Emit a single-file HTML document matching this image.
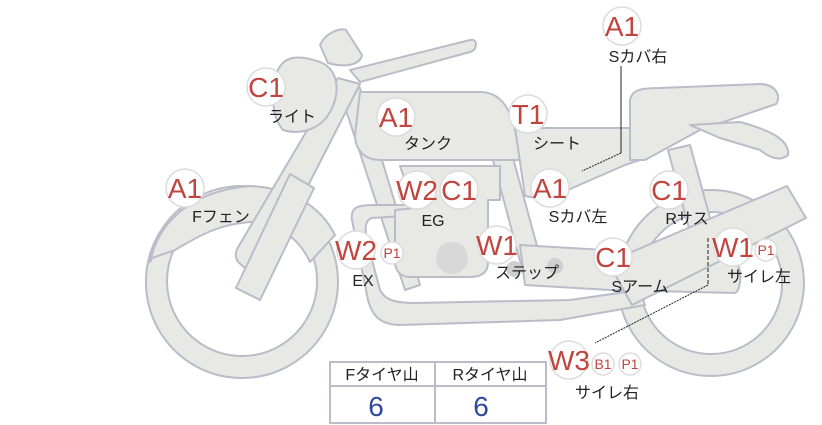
<!DOCTYPE html>
<html><head><meta charset="utf-8"><style>
html,body{margin:0;padding:0;background:#fff;width:822px;height:425px;overflow:hidden}
svg{display:block}
.b{fill:#e8e8e5;stroke:#b9bdc9;stroke-width:2;stroke-linejoin:round}
.c{fill:#fff;stroke:#dcdcdc;stroke-width:1.5}
.r{fill:#c1453f;font-family:"Liberation Sans",sans-serif;text-anchor:middle}
.k{fill:#222;font-family:"Liberation Sans","Noto Sans CJK JP",sans-serif;font-size:16px;text-anchor:middle}
</style></head><body>
<svg width="822" height="425" viewBox="0 0 822 425">
<path class="b" fill-rule="evenodd" d="M711,190 a93,93 0 1,1 -0.1,0 Z M711,212 a71,71 0 1,0 0.1,0 Z"/>
<path class="b" fill-rule="evenodd" d="M242,186 a96,96 0 1,1 -0.1,0 Z M242,206 a75,75 0 1,0 0.1,0 Z"/>
<path class="b" d="M150,262 C160,215 200,190 250,186 C290,188 320,205 335,235 L310,262 C295,230 265,220 250,222 C220,224 200,235 175,250 L152,258 Z"/>
<path class="b" d="M668,150 L690,145 L712,225 L690,232 Z"/>
<path class="b" d="M340,92 L360,88 L420,285 L405,290 Z"/>
<path class="b" d="M493,160 L513,158 L545,275 L525,280 Z"/>
<path class="b" d="M352,220 C350,205 360,205 380,205 L420,205 L420,215 L372,218 C365,220 364,228 368,245 L380,290 C385,300 395,303 415,303 L570,300 L640,290 L645,305 L560,320 L400,325 C380,325 372,315 368,300 Z"/>
<path class="b" d="M400,166 L500,166 L500,200 L488,200 L488,262 C488,272 482,277 470,277 L410,277 C400,277 395,270 395,262 L395,210 L415,208 Z"/>
<circle cx="452" cy="258" r="16" fill="#d8d8d8"/>
<path class="b" d="M520,245 L605,250 L735,262 C742,264 742,290 735,293 L610,290 L525,285 Z"/>
<circle cx="514" cy="269" r="8" fill="#cfcfcf"/><circle cx="555" cy="266" r="8" fill="#cfcfcf"/>
<path class="b" d="M608,262 L787,186 L806,218 L632,305 Z"/>
<path class="b" d="M360,92 L480,92 C505,92 515,115 520,160 L380,160 C365,160 355,150 355,135 Z"/>
<path class="b" d="M515,128 L630,128 L640,160 L625,165 L545,200 L525,196 Z"/>
<path class="b" d="M630,100 C632,90 640,88 660,88 L760,84 C775,84 782,96 776,104 L700,130 L645,160 L630,160 Z"/>
<path class="b" d="M690,125 L740,122 C770,130 790,140 788,155 C780,162 770,158 760,150 L720,138 Z"/>
<path class="b" d="M338,78 L360,84 L270,260 C265,270 255,272 245,268 L238,262 C234,255 236,250 240,244 Z"/>
<path class="b" d="M290,174 L314,188 L260,300 L236,288 Z"/>
<path class="b" d="M350,70 L470,40 C478,38 478,50 470,52 L360,82 Z"/>
<path class="b" d="M320,45 C326,32 340,28 346,30 L362,55 C360,65 345,68 328,63 Z"/>
<path class="b" d="M278,70 C285,55 300,55 320,62 C340,70 340,95 330,112 C320,130 300,135 283,130 C270,115 272,90 278,70 Z"/>

<path d="M621,66 L621,153" fill="none" stroke="#222" stroke-width="1"/>
<path d="M621,153 L582,171" fill="none" stroke="#222" stroke-width="1" stroke-dasharray="2,1"/>
<path d="M708,238 L708,285" fill="none" stroke="#222" stroke-width="1" stroke-dasharray="4,2"/>
<path d="M708,285 L595,343" fill="none" stroke="#222" stroke-width="1" stroke-dasharray="2,1"/>

<g>
<circle class="c" cx="622" cy="26" r="19"/><text class="r" x="622" y="36" font-size="28">A1</text><text class="k" x="638" y="62">Sカバ右</text>
<circle class="c" cx="266" cy="87" r="19"/><text class="r" x="266" y="97" font-size="28">C1</text><text class="k" x="292" y="122">ライト</text>
<circle class="c" cx="396" cy="117" r="19"/><text class="r" x="396" y="127" font-size="28">A1</text><text class="k" x="428" y="149">タンク</text>
<circle class="c" cx="528" cy="114" r="19"/><text class="r" x="528" y="124" font-size="28">T1</text><text class="k" x="557" y="149">シート</text>
<circle class="c" cx="185" cy="188" r="19"/><text class="r" x="185" y="198" font-size="28">A1</text><text class="k" x="221" y="222">Fフェン</text>
<circle class="c" cx="417" cy="190" r="19"/><text class="r" x="417" y="200" font-size="28">W2</text>
<circle class="c" cx="459" cy="190" r="19"/><text class="r" x="459" y="200" font-size="28">C1</text><text class="k" x="433" y="226">EG</text>
<circle class="c" cx="550" cy="188" r="19"/><text class="r" x="550" y="198" font-size="28">A1</text><text class="k" x="578" y="222">Sカバ左</text>
<circle class="c" cx="669" cy="190" r="19"/><text class="r" x="669" y="200" font-size="28">C1</text><text class="k" x="687" y="224">Rサス</text>
<circle class="c" cx="356" cy="250" r="19"/><text class="r" x="356" y="260" font-size="28">W2</text>
<circle class="c" cx="392" cy="253" r="11"/><text class="r" x="392" y="258" font-size="14">P1</text><text class="k" x="363" y="286">EX</text>
<circle class="c" cx="497" cy="245" r="19"/><text class="r" x="497" y="255" font-size="28">W1</text><text class="k" x="527" y="278">ステップ</text>
<circle class="c" cx="613" cy="257" r="19"/><text class="r" x="613" y="267" font-size="28">C1</text><text class="k" x="640" y="292">Sアーム</text>
<circle class="c" cx="733" cy="247" r="19"/><text class="r" x="733" y="257" font-size="28">W1</text>
<circle class="c" cx="766" cy="250" r="11"/><text class="r" x="766" y="255" font-size="14">P1</text><text class="k" x="759" y="282">サイレ左</text>
<circle class="c" cx="569" cy="360" r="19"/><text class="r" x="569" y="370" font-size="28">W3</text>
<circle class="c" cx="603" cy="364" r="11"/><text class="r" x="603" y="369" font-size="14">B1</text>
<circle class="c" cx="630" cy="364" r="11"/><text class="r" x="630" y="369" font-size="14">P1</text><text class="k" x="607" y="398">サイレ右</text>
</g>

<rect x="330" y="362" width="216" height="61" fill="#fff" stroke="#b9bdc9" stroke-width="2"/>
<line x1="330" y1="386" x2="546" y2="386" stroke="#b9bdc9" stroke-width="2"/>
<line x1="435" y1="362" x2="435" y2="423" stroke="#b9bdc9" stroke-width="2"/>
<text class="k" x="382" y="380">Fタイヤ山</text>
<text class="k" x="490" y="380">Rタイヤ山</text>
<text x="376" y="416" font-family="Liberation Sans,sans-serif" font-size="28" fill="#2f4a9a" text-anchor="middle">6</text>
<text x="481" y="416" font-family="Liberation Sans,sans-serif" font-size="28" fill="#2f4a9a" text-anchor="middle">6</text>
</svg>
</body></html>
